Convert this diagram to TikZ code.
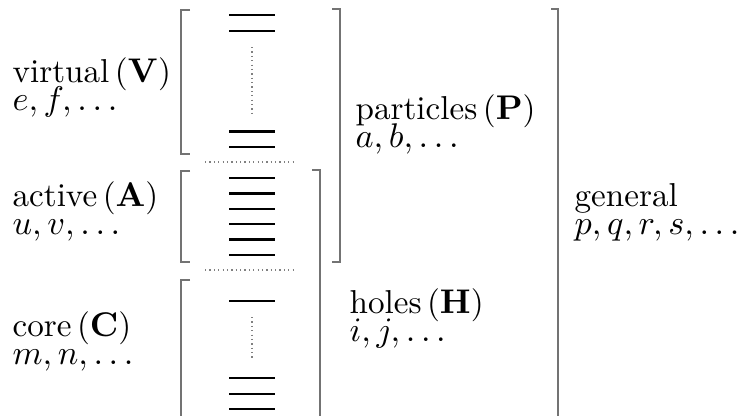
\documentclass[tikz,border=0pt]{standalone}
\usepackage{amsmath,amssymb,amsfonts}
\usepackage{xcolor}
\usepackage{tikz}
\usetikzlibrary{positioning}

\begin{document}
\begin{tikzpicture}[x=0.32pt,y=-0.32pt]
  \tikzstyle{level} = [draw, line width=0.75pt]
  \tikzstyle{bracket} = [draw, black!55, line width=0.55pt]
  \tikzstyle{guide} = [draw, black!50, line width=0.4pt, densely dotted]
  \tikzstyle{lbl} = [inner sep=0pt, anchor=base west, font=\fontsize{10.6}{12}\selectfont]
  \useasboundingbox (0,0) rectangle (739,415);

  % Orbital levels
  \draw[level] (229,15) -- (275,15);
  \draw[level] (229,31) -- (275,31);
  \draw[guide] (252,47) -- (252,113);
  \draw[level] (229,131.5) -- (275,131.5);
  \draw[level] (229,147) -- (275,147);
  \draw[guide] (205,162) -- (295,162);
  \draw[level] (229,178) -- (275,178);
  \draw[level] (229,193.5) -- (275,193.5);
  \draw[level] (229,208.8) -- (275,208.8);
  \draw[level] (229,224) -- (275,224);
  \draw[level] (229,239.5) -- (275,239.5);
  \draw[level] (229,255) -- (275,255);
  \draw[guide] (205,270) -- (295,270);
  \draw[level] (229,301) -- (275,301);
  \draw[guide] (252,317) -- (252,359);
  \draw[level] (229,378.3) -- (275,378.3);
  \draw[level] (229,393.7) -- (275,393.7);
  \draw[level] (229,409) -- (275,409);

  % Brackets
  \draw[bracket] (190,10) -- (181,10) -- (181,154) -- (190,154);
  \draw[bracket] (190,171) -- (181,171) -- (181,262) -- (190,262);
  \draw[bracket] (190,280) -- (181,280) -- (181,416);
  \draw[bracket] (332,9) -- (340,9) -- (340,262) -- (332,262);
  \draw[bracket] (312,170) -- (320,170) -- (320,416);
  \draw[bracket] (551,9) -- (558,9) -- (558,416);

  % Labels
  \node[lbl] (virt) at (12,82) {virtual\,($\mathbf{V}$)};
  \node[lbl] (virtidx) at (12,110) {$e, f, \ldots$};
  \node[lbl] (act) at (12,206) {active\,($\mathbf{A}$)};
  \node[lbl] (actidx) at (12,234) {$u, v, \ldots$};
  \node[lbl] (core) at (12,336) {core\,($\mathbf{C}$)};
  \node[lbl] (coreidx) at (12,364) {$m, n, \ldots$};
  \node[lbl] (part) at (355,119) {particles\,($\mathbf{P}$)};
  \node[lbl] (partidx) at (355,147) {$a, b, \ldots$};
  \node[lbl] (hole) at (349,313) {holes\,($\mathbf{H}$)};
  \node[lbl] (holeidx) at (349,341) {$i, j, \ldots$};
  \node[lbl] (gen) at (574,206) {general};
  \node[lbl] (genidx) at (574,234) {$p, q, r, s, \ldots$};
\end{tikzpicture}
\end{document}
